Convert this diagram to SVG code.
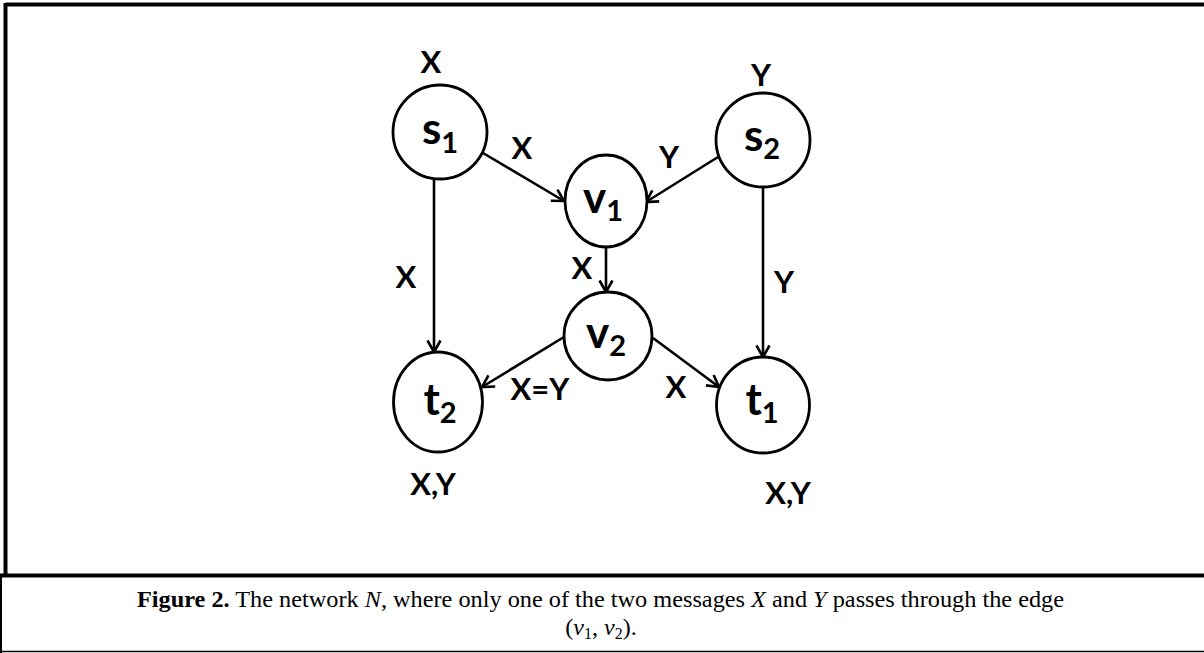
<svg xmlns="http://www.w3.org/2000/svg" width="1204" height="653" viewBox="0 0 1204 653">
  <style>
    .node { fill: #fff; stroke: #000; stroke-width: 2.8; }
    .edge { fill: none; stroke: #000; stroke-width: 2.6; marker-end: url(#arrow); }
    .nlab { font-family: Lato, "Open Sans", sans-serif; font-weight: bold; font-size: 44px; fill: #000; text-anchor: middle; }
    .sub { font-size: 29px; }
    .elab { font-family: Lato, "Open Sans", sans-serif; font-weight: bold; font-size: 31px; fill: #000; text-anchor: middle; }
    .cap { font-family: "Liberation Serif", "Times New Roman", serif; font-size: 24px; fill: #000; }
    .mi { font-style: italic; }
  </style>
  <defs>
    <marker id="arrow" markerWidth="16" markerHeight="16" refX="13" refY="8" orient="auto" markerUnits="userSpaceOnUse">
      <path d="M1.5,1.5 L13,8 L1.5,14.5" fill="none" stroke="#000" stroke-width="2.6"/>
    </marker>
  </defs>

  <rect width="1204" height="653" fill="#fff"/>

  <!-- frame of the figure cell and the caption cell -->
  <g id="frame" stroke="#000" fill="none">
    <line x1="5.5" y1="4.5" x2="1204" y2="4.5" stroke-width="4"/>
    <line x1="5.5" y1="3" x2="5.5" y2="577" stroke-width="4"/>
    <line x1="0" y1="575.5" x2="1204" y2="575.5" stroke-width="4"/>
    <line x1="1" y1="575" x2="1" y2="653" stroke-width="2"/>
    <line x1="0" y1="651.5" x2="1204" y2="651.5" stroke-width="1.5"/>
  </g>

  <!-- connectors -->
  <g id="edges">
    <line class="edge" x1="434" y1="179" x2="434" y2="352"/>
    <line class="edge" x1="763" y1="187" x2="763" y2="357"/>
    <line class="edge" x1="483" y1="153" x2="564" y2="201"/>
    <line class="edge" x1="718" y1="157" x2="646" y2="202"/>
    <line class="edge" x1="606" y1="247" x2="606" y2="292"/>
    <line class="edge" x1="564" y1="337" x2="482" y2="387"/>
    <line class="edge" x1="653" y1="338" x2="719" y2="387"/>
  </g>

  <!-- edge and message labels -->
  <g id="labels">
    <text class="elab" x="431" y="73">X</text>
    <text class="elab" x="761" y="86">Y</text>
    <text class="elab" x="522" y="159">X</text>
    <text class="elab" x="669" y="168">Y</text>
    <text class="elab" x="406" y="288">X</text>
    <text class="elab" x="582" y="279">X</text>
    <text class="elab" x="784" y="293">Y</text>
    <text class="elab" x="540" y="400">X=Y</text>
    <text class="elab" x="676" y="398">X</text>
    <text class="elab" x="433" y="495">X,Y</text>
    <text class="elab" x="788" y="504">X,Y</text>
  </g>

  <g id="s1">
    <ellipse class="node" cx="440" cy="132" rx="47" ry="47"/>
    <text class="nlab" x="440" y="144">s<tspan class="sub" dy="9">1</tspan></text>
  </g>
  <g id="s2">
    <ellipse class="node" cx="763" cy="140" rx="47" ry="47"/>
    <text class="nlab" x="762" y="151">s<tspan class="sub" dy="8">2</tspan></text>
  </g>
  <g id="v1">
    <ellipse class="node" cx="606" cy="201" rx="41" ry="46"/>
    <text class="nlab" x="603" y="213">v<tspan class="sub" dy="8">1</tspan></text>
  </g>
  <g id="v2">
    <ellipse class="node" cx="608" cy="336" rx="44" ry="44"/>
    <text class="nlab" x="606" y="348">v<tspan class="sub" dy="8">2</tspan></text>
  </g>
  <g id="t2">
    <ellipse class="node" cx="438" cy="402" rx="44.5" ry="50"/>
    <text class="nlab" x="440" y="415">t<tspan class="sub" dy="8">2</tspan></text>
  </g>
  <g id="t1">
    <ellipse class="node" cx="763" cy="405" rx="46.5" ry="48"/>
    <text class="nlab" x="762" y="415">t<tspan class="sub" dy="8">1</tspan></text>
  </g>

  <!-- caption -->
  <g id="caption">
    <text class="cap" x="137" y="607" textLength="927" lengthAdjust="spacingAndGlyphs"><tspan font-weight="bold">Figure 2.</tspan> The network <tspan class="mi">N</tspan>, where only one of the two messages <tspan class="mi">X</tspan> and <tspan class="mi">Y</tspan> passes through the edge</text>
    <text class="cap" x="601" y="635" text-anchor="middle">(<tspan class="mi">v</tspan><tspan font-size="16" dy="4">1</tspan><tspan dy="-4">, </tspan><tspan class="mi">v</tspan><tspan font-size="16" dy="4">2</tspan><tspan dy="-4">).</tspan></text>
  </g>
</svg>
